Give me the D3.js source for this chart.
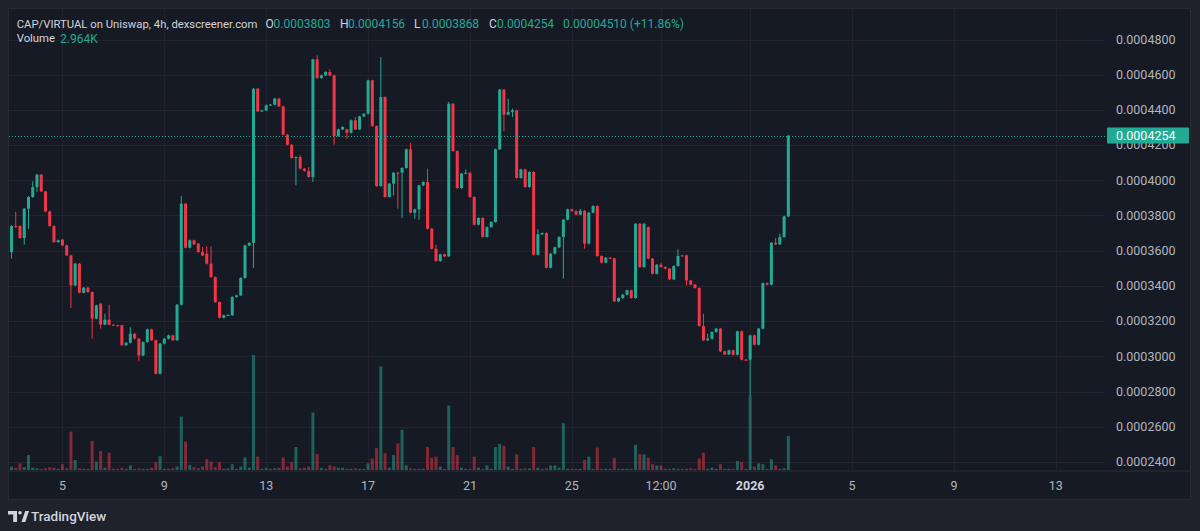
<!DOCTYPE html>
<html>
<head>
<meta charset="utf-8">
<script src="https://cdn.jsdelivr.net/npm/d3@7/dist/d3.min.js"></script>
<style>
html,body{margin:0;padding:0;background:#1f222b;}
svg{display:block;}
text{font-family:Roboto,"Noto Sans",sans-serif;}
</style>
</head>
<body>
<svg id="chart" width="1200" height="531"></svg>
<script>
// ---- DATA (prices in units of 1e-4; volumes in thousands) ----
const PRICE_UNIT = 1e-4;
const startTime = Date.UTC(2025, 11, 3, 0, 0);   // first 4h bar
const barHours = 4;

const opens = [
3.592,3.740,3.740,3.672,3.839,3.905,3.962,4.032,3.937,3.823,
3.740,3.649,3.663,3.630,3.573,3.403,3.526,3.361,3.390,3.365,
3.214,3.299,3.180,3.208,3.180,3.176,3.176,3.063,3.077,3.128,
3.100,3.005,3.081,3.153,3.091,2.901,3.072,3.100,3.119,3.091,
3.293,3.867,3.617,3.659,3.640,3.592,3.583,3.526,3.450,3.308,
3.219,3.233,3.233,3.337,3.346,3.445,3.630,3.644,4.520,4.392,
4.397,4.426,4.430,4.464,4.420,4.259,4.202,4.127,4.132,4.066,
4.053,4.019,4.687,4.581,4.596,4.615,4.596,4.252,4.289,4.289,
4.270,4.341,4.289,4.363,4.378,4.568,4.308,3.967,4.473,3.905,
3.981,4.043,4.043,4.070,4.176,3.816,3.835,3.971,3.990,3.725,
3.611,3.541,3.579,3.568,4.435,4.166,3.956,4.038,4.043,3.905,
3.748,3.786,3.678,3.734,3.763,4.176,4.515,4.373,4.388,4.397,
4.013,4.062,3.962,4.047,3.577,3.693,3.700,3.503,3.583,3.619,
3.678,3.776,3.835,3.825,3.805,3.827,3.640,3.816,3.854,3.570,
3.532,3.560,3.556,3.312,3.331,3.350,3.375,3.331,3.753,3.507,
3.734,3.555,3.469,3.520,3.507,3.498,3.437,3.513,3.573,3.573,
3.431,3.407,3.388,3.172,3.091,3.100,3.138,3.157,3.028,3.011,
3.034,3.009,3.142,2.981,2.981,3.119,3.066,3.157,3.416,3.407,
3.645,3.636,3.678,3.795];

const closes = [
3.740,3.734,3.672,3.839,3.905,3.962,4.032,3.937,3.823,3.740,
3.649,3.659,3.630,3.573,3.403,3.526,3.361,3.390,3.365,3.214,
3.289,3.180,3.208,3.180,3.176,3.174,3.063,3.077,3.128,3.100,
3.005,3.081,3.153,3.091,2.901,3.072,3.100,3.119,3.091,3.293,
3.867,3.617,3.659,3.636,3.592,3.573,3.526,3.450,3.308,3.219,
3.233,3.235,3.337,3.346,3.445,3.630,3.644,4.520,4.392,4.397,
4.426,4.430,4.464,4.420,4.259,4.202,4.127,4.132,4.066,4.053,
4.019,4.687,4.581,4.596,4.615,4.596,4.252,4.289,4.303,4.270,
4.341,4.289,4.363,4.378,4.568,4.308,3.967,4.473,3.905,3.981,
4.043,4.038,4.070,4.176,3.816,3.835,3.971,3.990,3.725,3.611,
3.541,3.579,3.568,4.435,4.166,3.956,4.038,4.043,3.905,3.748,
3.786,3.678,3.734,3.763,4.176,4.515,4.373,4.388,4.397,4.013,
4.062,3.962,4.047,3.577,3.693,3.700,3.503,3.583,3.619,3.678,
3.776,3.835,3.825,3.805,3.827,3.640,3.816,3.854,3.570,3.532,
3.560,3.556,3.312,3.331,3.350,3.375,3.331,3.753,3.507,3.753,
3.555,3.469,3.520,3.507,3.498,3.437,3.513,3.570,3.570,3.431,
3.407,3.388,3.172,3.091,3.100,3.138,3.157,3.028,3.011,3.034,
3.009,3.142,2.981,2.979,3.119,3.066,3.157,3.416,3.407,3.645,
3.636,3.678,3.795,4.254];

const highs = [
3.745,3.820,3.745,3.842,3.910,3.994,4.036,4.036,3.940,3.826,
3.744,3.663,3.666,3.634,3.577,3.530,3.530,3.394,3.394,3.368,
3.293,3.303,3.242,3.293,3.182,3.179,3.179,3.081,3.166,3.132,
3.104,3.085,3.157,3.157,3.095,3.076,3.104,3.123,3.123,3.297,
3.911,3.871,3.663,3.663,3.644,3.621,3.625,3.625,3.454,3.312,
3.237,3.239,3.341,3.350,3.449,3.634,3.648,4.524,4.524,4.401,
4.430,4.434,4.468,4.468,4.424,4.263,4.206,4.136,4.142,4.070,
4.075,4.691,4.710,4.600,4.619,4.630,4.600,4.293,4.307,4.293,
4.345,4.359,4.367,4.382,4.572,4.572,4.312,4.700,4.477,3.985,
4.047,4.047,4.074,4.180,4.214,3.839,3.975,3.994,4.066,3.729,
3.634,3.583,3.583,4.445,4.439,4.170,4.042,4.062,4.047,3.909,
3.790,3.790,3.738,3.767,4.180,4.519,4.519,4.464,4.407,4.401,
4.066,4.066,4.051,4.051,3.721,3.704,3.704,3.587,3.623,3.682,
3.780,3.839,3.839,3.829,3.837,3.831,3.820,3.858,3.858,3.574,
3.564,3.564,3.560,3.335,3.354,3.379,3.379,3.757,3.757,3.757,
3.738,3.559,3.524,3.532,3.511,3.502,3.517,3.608,3.577,3.577,
3.435,3.411,3.392,3.242,3.128,3.142,3.161,3.161,3.032,3.038,
3.038,3.146,3.146,2.985,3.123,3.123,3.161,3.420,3.420,3.649,
3.672,3.697,3.799,4.256];

const lows = [
3.555,3.730,3.668,3.634,3.725,3.901,3.933,3.933,3.819,3.736,
3.645,3.645,3.626,3.569,3.274,3.399,3.357,3.357,3.361,3.100,
3.210,3.157,3.176,3.176,3.172,3.170,3.059,3.059,3.073,3.096,
2.971,3.001,3.077,3.087,2.897,2.897,3.068,3.096,3.087,3.087,
3.289,3.613,3.613,3.632,3.588,3.569,3.522,3.446,3.304,3.215,
3.215,3.229,3.229,3.333,3.342,3.441,3.626,3.502,4.388,4.388,
4.393,4.422,4.426,4.416,4.255,4.198,4.123,3.971,4.062,4.049,
4.015,3.990,4.577,4.577,4.592,4.592,4.202,4.248,4.285,4.236,
4.266,4.285,4.285,4.359,4.374,4.304,3.963,3.963,3.901,3.901,
3.914,3.839,3.786,4.066,3.812,3.782,3.776,3.967,3.721,3.607,
3.537,3.537,3.564,3.564,4.162,3.952,3.952,4.034,3.901,3.744,
3.744,3.674,3.674,3.730,3.759,4.172,4.278,4.369,4.359,4.009,
4.009,3.958,3.958,3.573,3.573,3.689,3.499,3.499,3.579,3.615,
3.441,3.772,3.821,3.801,3.801,3.611,3.636,3.812,3.566,3.528,
3.528,3.552,3.308,3.308,3.327,3.346,3.327,3.327,3.503,3.503,
3.551,3.465,3.465,3.503,3.494,3.433,3.433,3.509,3.566,3.403,
3.403,3.384,3.168,3.087,3.087,3.096,3.134,3.024,3.007,3.007,
3.005,3.005,2.977,2.975,2.778,3.062,3.062,3.153,3.403,3.403,
3.632,3.632,3.674,3.791];

const volumesK = [
0.30,0.20,0.58,0.25,1.30,0.20,0.15,0.10,0.15,0.25,
0.20,0.10,0.50,0.15,3.34,0.87,0.15,0.10,0.10,2.53,
0.73,1.66,0.20,1.50,0.10,0.10,0.20,0.10,0.40,0.10,
0.15,0.10,0.10,0.20,0.67,1.20,0.10,0.10,0.15,0.30,
4.65,2.47,0.44,0.25,0.15,0.30,0.96,0.73,0.25,0.67,
0.10,0.15,0.50,0.10,0.30,1.10,0.20,10.0,1.16,0.10,
0.20,0.10,0.15,0.20,1.10,0.30,0.67,2.00,0.15,0.20,
0.30,5.00,1.40,0.20,0.10,0.40,0.30,0.20,0.20,0.10,
0.10,0.15,0.10,0.10,0.58,1.00,1.90,9.00,1.45,0.20,
1.30,2.30,3.50,0.40,0.15,0.10,0.10,0.10,2.00,1.07,
1.16,0.30,0.10,5.60,2.00,1.30,0.20,0.10,0.10,1.16,
0.20,0.10,0.40,0.10,2.00,2.27,2.10,0.30,0.10,1.36,
0.10,0.15,0.15,2.00,0.20,0.10,0.15,0.40,0.40,0.20,
4.07,0.10,0.10,0.10,0.10,0.87,1.16,0.10,1.95,0.10,
0.10,0.10,1.07,0.10,0.10,0.10,0.10,2.18,1.40,1.36,
1.07,0.50,0.40,0.40,0.10,0.10,0.15,0.10,0.10,0.10,
0.15,0.10,1.00,1.50,0.10,0.20,0.10,0.50,0.10,0.10,
0.10,0.78,0.70,0.10,6.50,0.30,0.58,0.50,0.10,0.93,
0.40,0.10,0.15,2.964];

const priceTicks = [0.00024,0.00026,0.00028,0.00030,0.00032,0.00034,0.00036,0.00038,0.00040,0.00042,0.00044,0.00046,0.00048];
const timeTicks = [
  {t: Date.UTC(2025,11,5),  label: "5"},
  {t: Date.UTC(2025,11,9),  label: "9"},
  {t: Date.UTC(2025,11,13), label: "13"},
  {t: Date.UTC(2025,11,17), label: "17"},
  {t: Date.UTC(2025,11,21), label: "21"},
  {t: Date.UTC(2025,11,25), label: "25"},
  {t: Date.UTC(2025,11,28,12), label: "12:00"},
  {t: Date.UTC(2026,0,1),   label: "2026", bold: true},
  {t: Date.UTC(2026,0,5),   label: "5"},
  {t: Date.UTC(2026,0,9),   label: "9"},
  {t: Date.UTC(2026,0,13),  label: "13"}
];
const lastPrice = 0.0004254;
const headerTitle = "CAP/VIRTUAL on Uniswap, 4h, dexscreener.com";
const ohlcLabels = ["O","H","L","C"];
const ohlcValues = ["0.0003803","0.0004156","0.0003868","0.0004254"];
const changeText = "0.00004510 (+11.86%)";
const volumeLabel = "2.964K";

// ---- BUILD ----
const bars = opens.map((o,i)=>({
  t: startTime + i*barHours*3600*1000,
  o: o*PRICE_UNIT, h: highs[i]*PRICE_UNIT, l: lows[i]*PRICE_UNIT, c: closes[i]*PRICE_UNIT,
  v: volumesK[i]
}));

const UP = "#22ab94", DOWN = "#f23645";
const UPV = "rgba(34,171,148,0.5)", DOWNV = "rgba(242,54,69,0.5)";
const svg = d3.select("#chart");

const P = {left: 8, right: 1191, top: 8, plotBottom: 470.5, axisBottom: 499, priceAxisX: 1105};

const x = d3.scaleUtc().domain([Date.UTC(2025,11,3), Date.UTC(2026,0,13)]).range([11.5, 1055.8]);
const y = d3.scaleLinear().domain([0.00024, 0.00048]).range([461.9, 39.5]);
const yv = d3.scaleLinear().domain([0, 10]).range([470, 355]);

// panel
svg.append("rect").attr("x",P.left+0.5).attr("y",P.top+0.5)
  .attr("width",P.right-P.left-1).attr("height",P.axisBottom-P.top)
  .attr("fill","#161a25").attr("stroke","#262a35");

svg.append("clipPath").attr("id","plotclip").append("rect")
  .attr("x",P.left+1).attr("y",P.top+1).attr("width",P.priceAxisX-P.left-1).attr("height",P.plotBottom-P.top-1);

const grid = svg.append("g");
grid.selectAll("line.h").data(priceTicks).join("line")
  .attr("x1",P.left+1).attr("x2",P.priceAxisX)
  .attr("y1",d=>Math.round(y(d))+0.5).attr("y2",d=>Math.round(y(d))+0.5)
  .attr("stroke","#232631").attr("stroke-width",1);
grid.selectAll("line.v").data(timeTicks).join("line")
  .attr("x1",d=>Math.round(x(d.t))+0.5).attr("x2",d=>Math.round(x(d.t))+0.5)
  .attr("y1",P.top+1).attr("y2",P.plotBottom)
  .attr("stroke","#21242f").attr("stroke-width",1);

svg.append("line").attr("x1",P.left+1).attr("x2",P.right-1)
  .attr("y1",P.plotBottom+0.5).attr("y2",P.plotBottom+0.5).attr("stroke","#2a2e39");

const plot = svg.append("g").attr("clip-path","url(#plotclip)");
const bw = 3;

plot.append("g").selectAll("rect").data(bars).join("rect")
  .attr("x",d=>x(d.t)-bw/2).attr("width",bw)
  .attr("y",d=>yv(d.v)).attr("height",d=>Math.max(0.8, yv(0)-yv(d.v)))
  .attr("fill",d=>d.c>=d.o?UPV:DOWNV);

plot.append("g").selectAll("line").data(bars).join("line")
  .attr("x1",d=>x(d.t)).attr("x2",d=>x(d.t))
  .attr("y1",d=>y(d.h)).attr("y2",d=>y(d.l))
  .attr("stroke",d=>d.c>=d.o?UP:DOWN).attr("stroke-width",1);

plot.append("g").selectAll("rect").data(bars).join("rect")
  .attr("x",d=>x(d.t)-bw/2).attr("width",bw)
  .attr("y",d=>y(Math.max(d.o,d.c)))
  .attr("height",d=>Math.max(1, Math.abs(y(d.o)-y(d.c))))
  .attr("fill",d=>d.c>=d.o?UP:DOWN);

svg.append("line").attr("x1",P.left+1).attr("x2",P.priceAxisX+2)
  .attr("y1",Math.round(y(lastPrice))+0.5).attr("y2",Math.round(y(lastPrice))+0.5)
  .attr("stroke",UP).attr("stroke-width",1).attr("stroke-dasharray","1,2");

svg.append("g").selectAll("text").data(priceTicks).join("text")
  .attr("x",1116).attr("y",d=>y(d)).attr("dy","0.35em")
  .attr("fill","#b2b5be").attr("font-size",12.5)
  .text(d=>d.toFixed(7));

const ty = y(lastPrice);
svg.append("rect").attr("x",1107).attr("y",ty-8).attr("width",82).attr("height",16)
  .attr("fill",UP).attr("rx",1);
svg.append("text").attr("x",1116).attr("y",ty).attr("dy","0.35em")
  .attr("fill","#ffffff").attr("font-size",12.5).text(lastPrice.toFixed(7));

svg.append("g").selectAll("text").data(timeTicks).join("text")
  .attr("x",d=>x(d.t)).attr("y",486).attr("dy","0.35em").attr("text-anchor","middle")
  .attr("fill",d=>d.bold?"#d1d4dc":"#b2b5be").attr("font-weight",d=>d.bold?700:400)
  .attr("font-size",12.5).text(d=>d.label);

// header
const hdr = svg.append("g").attr("font-size",12);
hdr.append("text").attr("x",16.7).attr("y",24).attr("dy","0.35em")
  .attr("fill","#d1d4dc").attr("font-size",11.3).text(headerTitle);
const keyX = [265.5, 340, 414, 489];
ohlcLabels.forEach((k,i)=>{
  hdr.append("text").attr("x",keyX[i]).attr("y",24).attr("dy","0.35em").attr("fill","#d1d4dc").text(k);
  hdr.append("text").attr("x",keyX[i]+8).attr("y",24).attr("dy","0.35em").attr("fill",UP).text(ohlcValues[i]);
});
hdr.append("text").attr("x",563).attr("y",24).attr("dy","0.35em").attr("fill",UP).text(changeText);
hdr.append("text").attr("x",16.7).attr("y",38.5).attr("dy","0.35em")
  .attr("fill","#d1d4dc").attr("font-size",11.3).text("Volume");
hdr.append("text").attr("x",60).attr("y",38.5).attr("dy","0.35em").attr("fill",UP).text(volumeLabel);

// TradingView logo
const logo = svg.append("g").attr("fill","#d1d4dc");
logo.append("path").attr("d","M8,511 H17 V522 H13.2 V514.6 H8 Z");
logo.append("circle").attr("cx",20).attr("cy",512.8).attr("r",1.8);
logo.append("path").attr("d","M21.5,522 L25.2,511 H29 L25.3,522 Z");
svg.append("text").attr("x",31).attr("y",516.5).attr("dy","0.35em")
  .attr("fill","#d1d4dc").attr("font-size",13.5).attr("font-weight",500).text("TradingView");
</script>
</body>
</html>
